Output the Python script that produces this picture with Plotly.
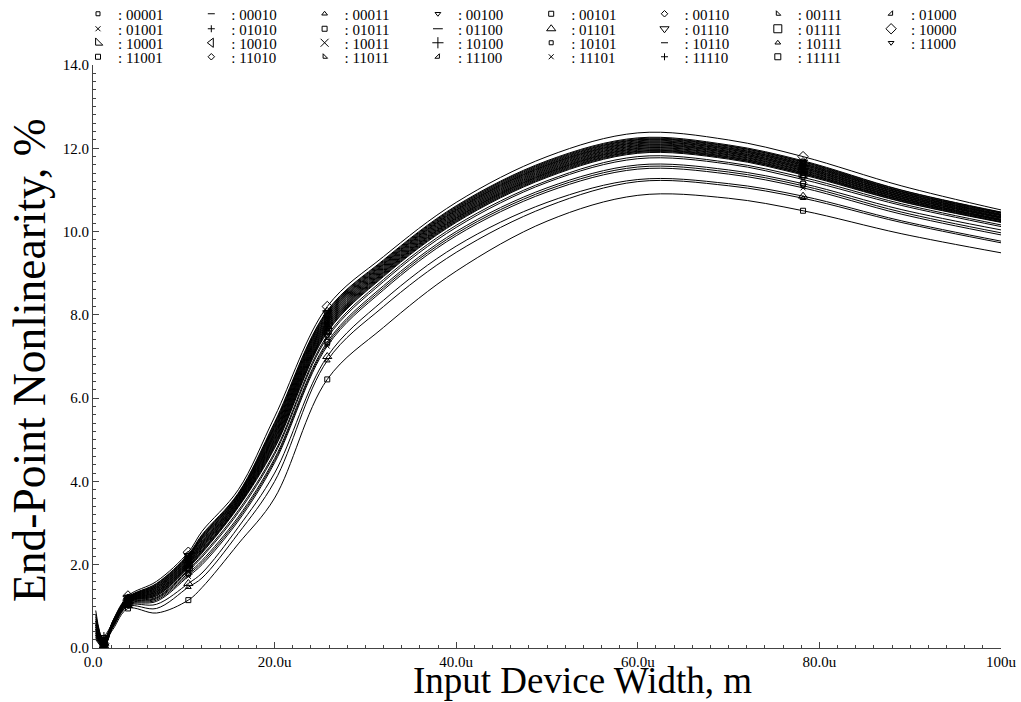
import plotly.graph_objects as go

# sample widths (u = micro-metres)
X = [0.3, 1.2, 2.2, 3.85, 7.0, 10.5, 12.0, 16.0, 20.0, 25.8, 32.0, 40.0, 50.0, 60.0, 70.0, 78.2, 89.0, 100.0]
MARK_IDX = [1, 3, 5, 9, 15]

s00001 = [0.65, 0.18, 0.55, 1.09, 1.22, 1.88, 2.22, 3.30, 4.70, 7.50, 8.85, 10.15, 11.22, 11.80, 11.66, 11.30, 10.67, 10.16]
s00010 = [0.30, 0.20, 0.57, 1.12, 1.31, 1.98, 2.36, 3.44, 4.92, 7.68, 9.00, 10.30, 11.38, 11.95, 11.80, 11.42, 10.77, 10.27]
s00011 = [0.60, 0.10, 0.50, 1.00, 0.95, 1.46, 1.68, 2.75, 4.00, 6.90, 8.20, 9.50, 10.60, 11.20, 11.10, 10.80, 10.22, 9.73]
s00100 = [0.20, 0.02, 0.58, 1.14, 1.35, 2.03, 2.43, 3.49, 5.01, 7.75, 9.05, 10.35, 11.43, 12.00, 11.85, 11.47, 10.81, 10.30]
s00101 = [0.90, 0.15, 0.45, 0.95, 0.84, 1.15, 1.45, 2.50, 3.60, 6.45, 7.70, 9.05, 10.25, 10.87, 10.80, 10.50, 9.95, 9.49]
s00110 = [0.50, 0.18, 0.61, 1.17, 1.42, 2.11, 2.53, 3.57, 5.15, 7.88, 9.15, 10.45, 11.53, 12.09, 11.93, 11.55, 10.88, 10.36]
s00111 = [0.50, 0.15, 0.55, 1.11, 1.26, 1.94, 2.30, 3.40, 4.83, 7.60, 8.94, 10.24, 11.32, 11.90, 11.76, 11.38, 10.73, 10.23]
s01000 = [0.60, 0.14, 0.63, 1.20, 1.49, 2.19, 2.64, 3.65, 5.30, 8.00, 9.24, 10.54, 11.62, 12.18, 12.01, 11.63, 10.95, 10.42]
s01001 = [0.75, 0.20, 0.50, 1.03, 1.12, 1.72, 2.00, 3.05, 4.45, 7.25, 8.60, 9.90, 10.95, 11.50, 11.38, 11.05, 10.42, 9.92]
s01010 = [0.80, 0.10, 0.60, 1.16, 1.39, 2.08, 2.49, 3.54, 5.10, 7.83, 9.11, 10.41, 11.49, 12.06, 11.90, 11.52, 10.85, 10.34]
s01011 = [0.55, 0.12, 0.53, 1.06, 1.18, 1.80, 2.10, 3.15, 4.55, 7.35, 8.70, 10.00, 11.05, 11.60, 11.48, 11.15, 10.53, 10.04]
s01100 = [0.35, 0.30, 0.62, 1.18, 1.45, 2.14, 2.57, 3.61, 5.21, 7.93, 9.19, 10.49, 11.57, 12.13, 11.97, 11.59, 10.91, 10.39]
s01101 = [0.45, 0.05, 0.52, 1.02, 1.05, 1.55, 1.80, 2.90, 4.20, 7.00, 8.35, 9.65, 10.70, 11.25, 11.15, 10.85, 10.26, 9.77]
s01110 = [0.55, 0.22, 0.64, 1.21, 1.52, 2.22, 2.68, 3.69, 5.36, 8.05, 9.28, 10.58, 11.66, 12.21, 12.05, 11.67, 10.97, 10.45]
s01111 = [0.35, 0.00, 0.56, 1.11, 1.28, 1.95, 2.32, 3.41, 4.86, 7.63, 8.96, 10.26, 11.34, 11.92, 11.77, 11.39, 10.75, 10.24]
s10000 = [0.35, 0.10, 0.66, 1.25, 1.60, 2.30, 2.80, 3.80, 5.55, 8.20, 9.40, 10.70, 11.80, 12.37, 12.20, 11.80, 11.10, 10.52]
s10001 = [0.60, 0.12, 0.58, 1.13, 1.34, 2.01, 2.41, 3.48, 4.98, 7.73, 9.03, 10.33, 11.41, 11.99, 11.84, 11.46, 10.80, 10.29]
s10010 = [0.25, 0.00, 0.63, 1.19, 1.48, 2.17, 2.62, 3.64, 5.27, 7.98, 9.22, 10.52, 11.60, 12.16, 12.00, 11.62, 10.93, 10.41]
s10011 = [0.40, 0.03, 0.56, 1.08, 1.20, 1.85, 2.18, 3.25, 4.65, 7.45, 8.80, 10.10, 11.18, 11.75, 11.62, 11.25, 10.63, 10.12]
s10100 = [0.40, 0.25, 0.59, 1.15, 1.38, 2.06, 2.47, 3.53, 5.07, 7.80, 9.09, 10.39, 11.47, 12.04, 11.89, 11.51, 10.84, 10.33]
s10101 = [0.30, 0.08, 0.55, 1.05, 1.15, 1.76, 2.05, 3.10, 4.50, 7.30, 8.65, 9.95, 11.00, 11.55, 11.43, 11.10, 10.47, 9.97]
s10110 = [0.65, 0.06, 0.61, 1.17, 1.44, 2.12, 2.55, 3.59, 5.18, 7.90, 9.17, 10.47, 11.55, 12.11, 11.95, 11.57, 10.89, 10.38]
s10111 = [0.70, 0.10, 0.56, 1.12, 1.29, 1.97, 2.34, 3.43, 4.89, 7.65, 8.98, 10.28, 11.36, 11.93, 11.79, 11.41, 10.76, 10.26]
s11000 = [0.30, 0.09, 0.65, 1.21, 1.54, 2.23, 2.70, 3.70, 5.39, 8.08, 9.30, 10.60, 11.68, 12.23, 12.06, 11.68, 10.99, 10.46]
s11001 = [0.25, 0.05, 0.55, 1.10, 1.25, 1.92, 2.28, 3.38, 4.80, 7.58, 8.92, 10.22, 11.30, 11.88, 11.74, 11.36, 10.72, 10.22]
s11010 = [0.50, 0.16, 0.65, 1.22, 1.55, 2.25, 2.72, 3.72, 5.42, 8.10, 9.32, 10.62, 11.70, 12.25, 12.08, 11.70, 11.00, 10.47]
s11011 = [0.45, 0.05, 0.57, 1.13, 1.32, 2.00, 2.39, 3.46, 4.95, 7.70, 9.02, 10.32, 11.40, 11.97, 11.82, 11.44, 10.79, 10.28]
s11100 = [0.30, 0.04, 0.60, 1.16, 1.41, 2.09, 2.51, 3.56, 5.12, 7.85, 9.13, 10.43, 11.51, 12.07, 11.92, 11.54, 10.87, 10.35]
s11101 = [0.55, 0.08, 0.59, 1.15, 1.36, 2.05, 2.45, 3.51, 5.04, 7.78, 9.07, 10.37, 11.45, 12.02, 11.87, 11.49, 10.83, 10.32]
s11110 = [0.45, 0.10, 0.62, 1.19, 1.46, 2.16, 2.60, 3.62, 5.24, 7.95, 9.21, 10.51, 11.59, 12.14, 11.98, 11.60, 10.92, 10.40]
s11111 = [0.40, 0.07, 0.64, 1.20, 1.51, 2.20, 2.66, 3.67, 5.33, 8.03, 9.26, 10.56, 11.64, 12.20, 12.03, 11.65, 10.96, 10.44]

NAMES = ["00001", "00010", "00011", "00100", "00101", "00110", "00111", "01000",
         "01001", "01010", "01011", "01100", "01101", "01110", "01111", "10000",
         "10001", "10010", "10011", "10100", "10101", "10110", "10111", "11000",
         "11001", "11010", "11011", "11100", "11101", "11110", "11111"]
VALUES = [s00001, s00010, s00011, s00100, s00101, s00110, s00111, s01000,
          s01001, s01010, s01011, s01100, s01101, s01110, s01111, s10000,
          s10001, s10010, s10011, s10100, s10101, s10110, s10111, s11000,
          s11001, s11010, s11011, s11100, s11101, s11110, s11111]

SYMBOLS = ["square-open", "line-ew-open", "triangle-up-open", "triangle-down-open",
           "square-open", "diamond-open", "triangle-sw-open", "triangle-se-open",
           "x-thin-open", "cross-thin-open", "square-open", "line-ew-open",
           "triangle-up-open", "triangle-down-open", "square-open", "diamond-open",
           "triangle-sw-open", "triangle-left-open", "x-thin-open", "cross-thin-open",
           "square-open", "line-ew-open", "triangle-up-open", "triangle-down-open",
           "square-open", "diamond-open", "triangle-sw-open", "triangle-se-open",
           "x-thin-open", "cross-thin-open", "square-open"]
SIZES = [4, 5, 5, 5, 5, 5, 5, 5, 5, 5, 5, 7, 8, 8, 8, 8, 8, 8, 8, 8,
         4, 5, 5, 5, 5, 5, 5, 5, 5, 5, 6]

XTICKS = [0, 20, 40, 60, 80, 100]
XTICKTEXT = ["0.0", "20.0u", "40.0u", "60.0u", "80.0u", "100u"]
YTICKS = [0, 2, 4, 6, 8, 10, 12, 14]
YTICKTEXT = ["0.0", "2.0", "4.0", "6.0", "8.0", "10.0", "12.0", "14.0"]
X_TITLE = "Input Device Width, m"
Y_TITLE = "End-Point Nonlinearity, %"

FONT = "Liberation Serif"
AX = "#444444"
PLOT_T, PLOT_B, PLOT_L, PLOT_R = 65, 648, 93, 1001
PH = PLOT_B - PLOT_T
PW = PLOT_R - PLOT_L

fig = go.Figure()
for i, (name, vals) in enumerate(zip(NAMES, VALUES)):
    fig.add_trace(go.Scatter(
        x=X, y=vals, mode="lines", showlegend=False, hoverinfo="skip",
        line=dict(color="black", width=1.0, shape="spline", smoothing=1.0)))
for i, (name, vals) in enumerate(zip(NAMES, VALUES)):
    row = i // 8
    fig.add_trace(go.Scatter(
        x=[X[j] for j in MARK_IDX], y=[vals[j] for j in MARK_IDX],
        mode="markers", name=": " + name,
        legend="legend" if row == 0 else "legend%d" % (row + 1),
        marker=dict(symbol=SYMBOLS[i], size=SIZES[i], color="black",
                    line=dict(width=1, color="black"))))

ROW_PX = [14, 29, 43, 57]
legends = {}
for r, py in enumerate(ROW_PX):
    key = "legend" if r == 0 else "legend%d" % (r + 1)
    legends[key] = dict(
        orientation="h", x=(98 - 20 - PLOT_L) / PW, xanchor="left",
        y=(PLOT_B - py) / PH, yanchor="middle",
        entrywidth=68.3, bgcolor="rgba(0,0,0,0)", borderwidth=0,
        font=dict(family=FONT, size=15, color="black"),
        itemwidth=30, traceorder="normal")

fig.update_layout(
    width=1021, height=702,
    margin=dict(l=PLOT_L, r=1021 - PLOT_R, t=PLOT_T, b=702 - PLOT_B, autoexpand=False),
    plot_bgcolor="white", paper_bgcolor="white",
    font=dict(family=FONT, color="black"),
    xaxis=dict(range=[0, 100], tickvals=XTICKS, ticktext=XTICKTEXT, automargin=False,
               ticks="inside", ticklen=6, tickcolor=AX, showline=True,
               linecolor=AX, linewidth=1, showgrid=False, zeroline=False,
               minor=dict(ticks="inside", ticklen=3, dtick=2, tickcolor=AX),
               tickfont=dict(size=15, family=FONT)),
    yaxis=dict(range=[0, 14], tickvals=YTICKS, ticktext=YTICKTEXT, automargin=False,
               ticks="inside", ticklen=6, tickcolor=AX, showline=True,
               linecolor=AX, linewidth=1, showgrid=False, zeroline=False,
               minor=dict(ticks="inside", ticklen=3, dtick=0.2, tickcolor=AX),
               tickfont=dict(size=15, family=FONT)),
    annotations=[
        dict(text=X_TITLE, xref="paper", yref="paper",
             x=(582 - PLOT_L) / PW, y=(PLOT_B - 702) / PH,
             xanchor="center", yanchor="bottom", showarrow=False,
             borderpad=0,
             font=dict(size=37, family=FONT, color="black")),
        dict(text=Y_TITLE, xref="paper", yref="paper", textangle=-90,
             x=(29 - PLOT_L) / PW, y=(PLOT_B - 360) / PH,
             xanchor="center", yanchor="middle", showarrow=False,
             font=dict(size=45.5, family=FONT, color="black")),
    ],
    **legends)

fig.write_html("out.html")
